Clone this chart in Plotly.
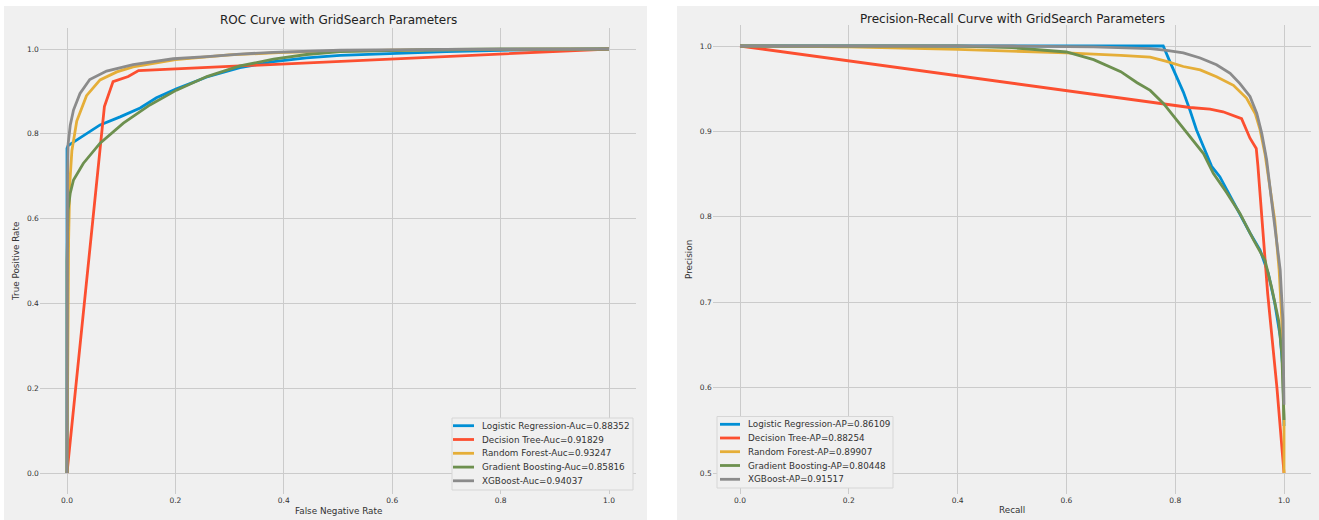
import plotly.graph_objects as go

W, H = 1319, 520
FONT = "DejaVu Sans"
LINE_W = 2.8

MODELS = ["Logistic Regression", "Decision Tree", "Random Forest", "Gradient Boosting", "XGBoost"]
COLORS = ["#008fd5", "#fc4f30", "#e5ae38", "#6d904f", "#8b8b8b"]
ROC_AUC = [0.88352, 0.91829, 0.93247, 0.85816, 0.94037]
PR_AP = [0.86109, 0.88254, 0.89907, 0.80448, 0.91517]

TICKS_01 = [0.0, 0.2, 0.4, 0.6, 0.8, 1.0]
TICKS_PREC = [0.5, 0.6, 0.7, 0.8, 0.9, 1.0]

# ROC curves: false positive rate / true positive rate
LR_FPR = [0, 0, 0.002, 0.018, 0.04, 0.061, 0.098, 0.135, 0.165, 0.202, 0.258, 0.319, 0.381, 0.442, 0.504, 0.6, 0.7, 0.8, 0.9, 1.0]
LR_TPR = [0, 0.766, 0.772, 0.785, 0.804, 0.821, 0.840, 0.861, 0.885, 0.906, 0.934, 0.956, 0.970, 0.979, 0.985, 0.990, 0.994, 0.997, 0.999, 1.0]
DT_FPR = [0, 0.069, 0.085, 0.113, 0.132, 1.0]
DT_TPR = [0, 0.864, 0.923, 0.935, 0.949, 1.0]
RF_FPR = [0, 0.001, 0.003, 0.005, 0.009, 0.018, 0.036, 0.061, 0.092, 0.122, 0.16, 0.2, 0.3, 0.4, 0.5, 0.6, 0.8, 1.0]
RF_TPR = [0, 0.3, 0.55, 0.68, 0.76, 0.83, 0.89, 0.927, 0.946, 0.958, 0.967, 0.975, 0.986, 0.992, 0.995, 0.997, 0.999, 1.0]
GB_FPR = [0, 0, 0.002, 0.006, 0.012, 0.03, 0.061, 0.104, 0.153, 0.202, 0.258, 0.319, 0.381, 0.442, 0.504, 0.6, 0.7, 0.8, 1.0]
GB_TPR = [0, 0.5, 0.62, 0.66, 0.691, 0.73, 0.778, 0.825, 0.868, 0.903, 0.935, 0.960, 0.976, 0.987, 0.994, 0.997, 0.999, 1.0, 1.0]
XGB_FPR = [0, 0, 0.001, 0.002, 0.006, 0.012, 0.024, 0.042, 0.073, 0.122, 0.196, 0.258, 0.319, 0.381, 0.504, 0.7, 1.0]
XGB_TPR = [0, 0.5, 0.7, 0.775, 0.82, 0.856, 0.895, 0.928, 0.948, 0.963, 0.977, 0.982, 0.988, 0.992, 0.997, 0.999, 1.0]

# Precision-recall curves: recall / precision
LR_REC = [0, 0.3, 0.6, 0.754, 0.778, 0.790, 0.803, 0.815, 0.827, 0.839, 0.852, 0.867, 0.882, 0.901, 0.919, 0.9375, 0.956, 0.971, 0.983, 0.993, 0.998, 1.0]
LR_PREC = [1.0, 1.0, 1.0, 1.0, 1.0, 0.982, 0.964, 0.946, 0.925, 0.902, 0.882, 0.859, 0.847, 0.824, 0.804, 0.781, 0.761, 0.734, 0.699, 0.660, 0.621, 0.555]
DT_REC = [0, 0.754, 0.827, 0.864, 0.888, 0.922, 0.9375, 0.949, 0.952, 0.970, 0.987, 1.0]
DT_PREC = [1.0, 0.935, 0.928, 0.926, 0.923, 0.915, 0.892, 0.880, 0.860, 0.710, 0.600, 0.5]
RF_REC = [0, 0.2, 0.4, 0.6, 0.7, 0.754, 0.784, 0.815, 0.846, 0.876, 0.907, 0.931, 0.947, 0.956, 0.965, 0.974, 0.983, 0.991, 0.996, 1.0, 1.0]
RF_PREC = [1.0, 0.999, 0.996, 0.992, 0.989, 0.987, 0.982, 0.976, 0.972, 0.964, 0.954, 0.939, 0.921, 0.902, 0.874, 0.835, 0.796, 0.738, 0.679, 0.56, 0.5]
GB_REC = [0, 0.4, 0.5, 0.6, 0.65, 0.7, 0.73, 0.754, 0.778, 0.803, 0.827, 0.852, 0.870, 0.895, 0.919, 0.944, 0.965, 0.977, 0.99, 0.996, 1.0]
GB_PREC = [1.0, 1.0, 0.998, 0.993, 0.984, 0.970, 0.957, 0.948, 0.933, 0.913, 0.894, 0.874, 0.851, 0.828, 0.804, 0.773, 0.749, 0.718, 0.679, 0.640, 0.562]
XGB_REC = [0, 0.5, 0.65, 0.754, 0.784, 0.815, 0.846, 0.876, 0.901, 0.919, 0.9375, 0.95, 0.959, 0.968, 0.977, 0.985, 0.993, 0.998, 1.0]
XGB_PREC = [1.0, 1.0, 0.999, 0.997, 0.995, 0.992, 0.986, 0.978, 0.968, 0.956, 0.941, 0.921, 0.898, 0.867, 0.820, 0.781, 0.738, 0.679, 0.58]

ROC_X = [LR_FPR, DT_FPR, RF_FPR, GB_FPR, XGB_FPR]
ROC_Y = [LR_TPR, DT_TPR, RF_TPR, GB_TPR, XGB_TPR]
PR_X = [LR_REC, DT_REC, RF_REC, GB_REC, XGB_REC]
PR_Y = [LR_PREC, DT_PREC, RF_PREC, GB_PREC, XGB_PREC]


def px(x):
    return x / W


def py(y):
    return 1 - y / H


fig = go.Figure()
for i, name in enumerate(MODELS):
    fig.add_trace(go.Scatter(x=ROC_X[i], y=ROC_Y[i], mode="lines", name=name,
                             line=dict(color=COLORS[i], width=LINE_W),
                             xaxis="x", yaxis="y", showlegend=False))
for i, name in enumerate(MODELS):
    fig.add_trace(go.Scatter(x=PR_X[i], y=PR_Y[i], mode="lines", name=name,
                             line=dict(color=COLORS[i], width=LINE_W),
                             xaxis="x2", yaxis="y2", showlegend=False))

tickfont = dict(family=FONT, size=7.5, color="#333333")
axis_style = dict(showgrid=True, gridcolor="#cbcbcb", gridwidth=1, zeroline=False,
                  showline=False, ticks="", tickfont=tickfont, tickformat=".1f",
                  fixedrange=True)

shapes = [
    dict(type="rect", xref="paper", yref="paper", x0=px(4), x1=px(647), y0=py(520), y1=py(6),
         fillcolor="#f0f0f0", line=dict(width=0), layer="below"),
    dict(type="rect", xref="paper", yref="paper", x0=px(677), x1=px(1319), y0=py(520), y1=py(6),
         fillcolor="#f0f0f0", line=dict(width=0), layer="below"),
]
annotations = []


def text(x, y, s, size, color="#333333", anchor="center", angle=0):
    annotations.append(dict(x=px(x), y=py(y), xref="paper", yref="paper", text=s,
                            showarrow=False, xanchor=anchor, yanchor="middle",
                            textangle=angle, font=dict(family=FONT, size=size, color=color)))


# titles and axis labels
text(338, 20.5, "ROC Curve with GridSearch Parameters", 12, "#222222")
text(1012, 19.5, "Precision-Recall Curve with GridSearch Parameters", 12, "#222222")
text(338, 511, "False Negative Rate", 8.8)
text(1012, 510, "Recall", 8.8)
text(16, 262, "True Positive Rate", 8.8, angle=-90)
text(689, 260, "Precision", 8.8, angle=-90)


def legend_box(x0, x1, y0, y1, line_x0, line_x1, text_x, rows, labels):
    shapes.append(dict(type="rect", xref="paper", yref="paper", x0=px(x0), x1=px(x1),
                       y0=py(y1), y1=py(y0), fillcolor="#f0f0f0",
                       line=dict(color="#d6d6d6", width=1), layer="above"))
    for i, lab in enumerate(labels):
        shapes.append(dict(type="line", xref="paper", yref="paper", x0=px(line_x0), x1=px(line_x1),
                           y0=py(rows[i]), y1=py(rows[i]),
                           line=dict(color=COLORS[i], width=LINE_W), layer="above"))
        text(text_x, rows[i], lab, 8.8, anchor="left")


legend_box(452, 633, 418, 490, 453, 474, 480, [425.7, 439.5, 453.3, 467.1, 480.8],
           [f"{m}-Auc={v:.5f}" for m, v in zip(MODELS, ROC_AUC)])
legend_box(717, 893, 416.5, 488, 720, 740, 745.5, [424.3, 438.0, 451.7, 465.5, 479.3],
           [f"{m}-AP={v:.5f}" for m, v in zip(MODELS, PR_AP)])

fig.update_layout(
    width=W, height=H,
    margin=dict(l=0, r=0, t=0, b=0),
    paper_bgcolor="#ffffff",
    plot_bgcolor="#f0f0f0",
    showlegend=False,
    xaxis=dict(domain=[px(39.9), px(636.1)], range=[-0.05, 1.05], tickvals=TICKS_01,
               anchor="y", **axis_style),
    yaxis=dict(domain=[py(494.2), py(27.8)], range=[-0.05, 1.05], tickvals=TICKS_01,
               anchor="x", **axis_style),
    xaxis2=dict(domain=[px(712.8), px(1311.2)], range=[-0.05, 1.05], tickvals=TICKS_01,
                anchor="y2", **axis_style),
    yaxis2=dict(domain=[py(494.35), py(24.65)], range=[0.475, 1.025], tickvals=TICKS_PREC,
                anchor="x2", **axis_style),
    shapes=shapes,
    annotations=annotations,
)

fig.write_html("out.html")
